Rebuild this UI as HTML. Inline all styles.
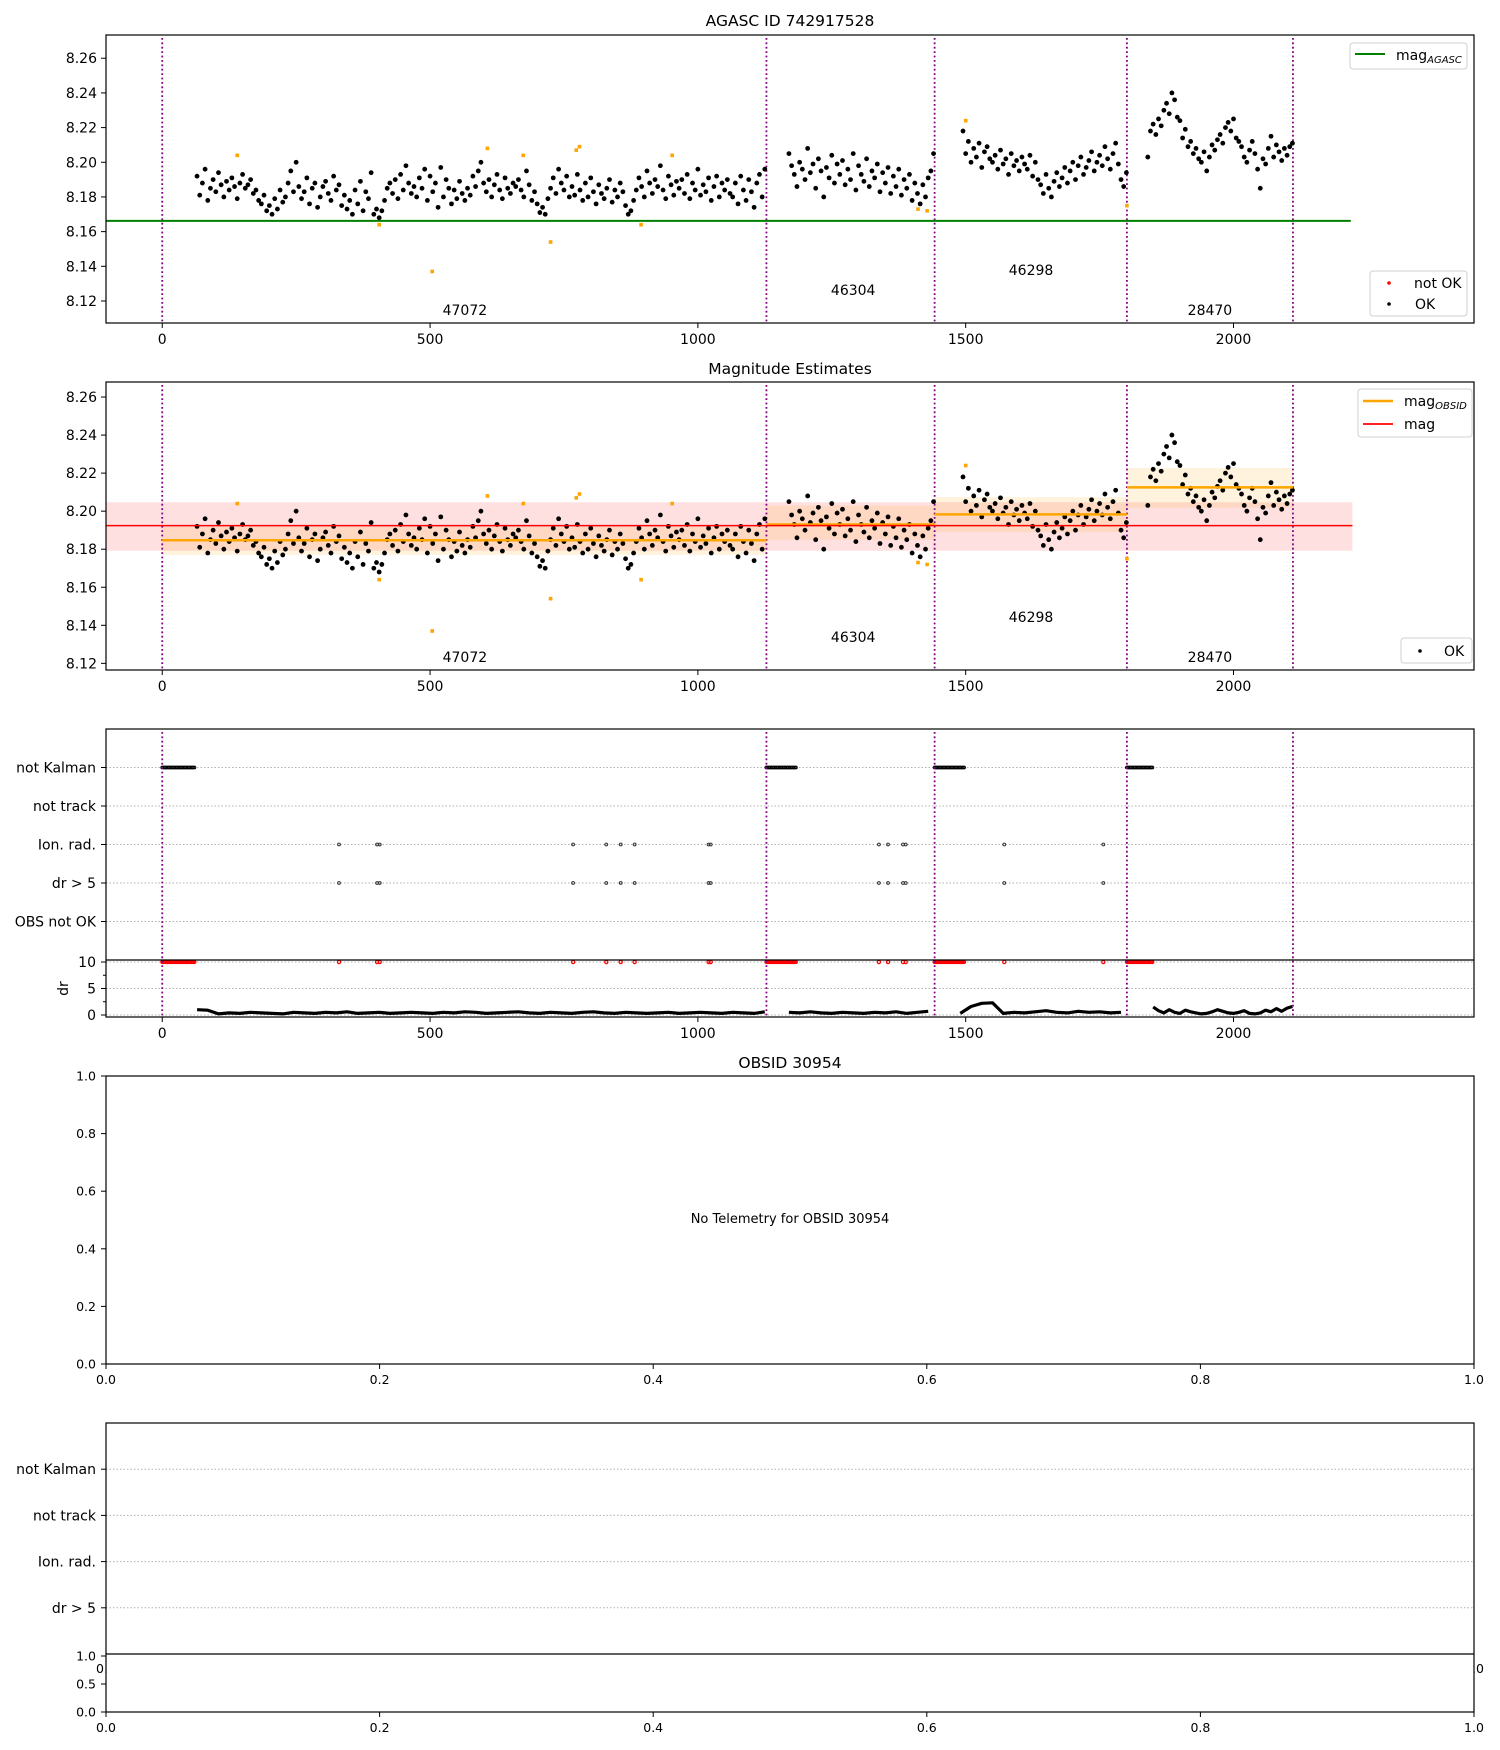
<!DOCTYPE html>
<html><head><meta charset="utf-8">
<style>
html,body{margin:0;padding:0;background:#fff;}
svg{display:block;font-family:"DejaVu Sans","Liberation Sans",sans-serif;}
</style></head>
<body>
<svg id="fig" width="1500" height="1750" viewBox="0 0 1500 1750" xmlns="http://www.w3.org/2000/svg">
<rect width="1500" height="1750" fill="#fff"/>
</svg>
<script>
// ---------- data ----------
const obsidLabels = ["47072","46304","46298","28470"];
const obsidBoundaries = [0, 1128, 1442, 1801, 2111];
const segStarts = [65, 1170, 1495, 1840];
const segStep = 5;
const magSegA = [92,81,88,96,78,85,90,83,94,87,80,89,84,91,86,79,88,93,85,87,
90,82,84,78,76,81,72,75,70,79,73,84,77,80,88,95,83,100,86,79,
83,91,76,85,88,74,80,86,89,82,78,92,84,87,75,81,73,78,70,84,
76,89,72,83,79,94,70,73,68,72,78,85,88,82,90,79,93,84,98,88,
82,86,80,91,85,96,78,92,83,88,74,97,80,90,85,76,84,79,89,82,
78,85,81,92,86,95,100,88,83,90,80,87,93,84,79,91,85,82,88,86,
90,84,80,95,87,78,83,76,71,74,70,79,85,91,82,96,88,84,92,80,
86,81,93,84,78,88,80,91,83,76,87,82,79,85,90,77,84,80,88,83,
75,70,72,78,84,91,86,80,95,88,82,90,86,98,84,79,92,87,81,89,
85,90,82,93,79,88,84,96,81,87,83,91,78,86,92,80,88,84,90,82,
80,88,76,92,84,78,90,83,74,88,93,80,96];
const magSegB = [105,98,93,86,100,96,90,108,94,99,85,102,95,80,97,91,104,88,99,93,
101,87,96,90,105,84,98,93,89,102,86,95,91,99,83,94,88,97,82,92,
86,96,81,90,85,93,78,88,82,76,87,80,91,95,105];
const magSegC = [118,105,112,100,108,103,111,97,106,109,102,100,104,96,107,99,102,93,105,98,
101,95,103,99,96,104,92,100,90,87,82,93,85,80,89,94,86,91,97,88,
95,100,90,98,103,93,97,101,106,95,100,104,98,109,102,96,105,111,99,90,86,94];
const magSegD = [103,118,122,116,125,121,130,134,128,140,136,126,124,114,119,109,112,105,108,102,
100,106,95,103,110,107,113,116,111,120,123,118,125,114,112,109,103,100,107,112,
105,96,85,102,99,108,115,103,110,106,101,108,104,109,111];
const notOkTimes = [140,405,504,607,674,725,773,779,894,952,1411,1428,1500,1801];
const notOkMags = [8.204,8.164,8.137,8.208,8.204,8.154,8.207,8.209,8.164,8.204,8.173,8.172,8.224,8.175];
const magAgasc = 8.1662;
const magMean = 8.1924, magMeanLo = 8.1792, magMeanHi = 8.2047;
const magObsid = [8.1847, 8.1930, 8.1983, 8.2125];
const magObsidLo = [8.1770, 8.1850, 8.1890, 8.2018];
const magObsidHi = [8.1920, 8.2030, 8.2074, 8.2227];
const drStarts = [65, 1170, 1490, 1850];
const drSteps = [20, 20, 20, 10];
const drSegA = [1.0,0.9,0.2,0.4,0.3,0.5,0.4,0.3,0.2,0.5,0.4,0.3,0.5,0.4,0.6,0.3,0.4,0.5,0.3,0.4,0.5,0.4,0.3,0.5,0.4,0.6,0.5,0.3,0.4,0.5,0.6,0.4,0.3,0.5,0.4,0.3,0.5,0.6,0.4,0.3,0.5,0.4,0.3,0.4,0.5,0.3,0.4,0.5,0.4,0.3,0.5,0.4,0.3,0.6];
const drSegB = [0.5,0.4,0.6,0.4,0.3,0.5,0.4,0.3,0.5,0.4,0.6,0.3,0.5,0.7];
const drSegC = [0.3,1.6,2.2,2.3,0.3,0.5,0.4,0.6,0.8,0.5,0.4,0.7,0.5,0.6,0.4,0.5];
const drSegD = [1.5,0.8,0.4,1.0,0.5,0.3,0.9,0.6,0.4,0.2,0.3,0.6,1.0,0.7,0.4,0.3,0.5,0.8,0.3,0.2,0.4,0.9,0.6,1.2,0.7,1.3,1.6];
const kalmanStart = [0, 1128, 1442, 1801];
const kalmanEnd = [62, 1185, 1497, 1850];
const ionRadTimes = [330,401,406,767,829,856,882,1020,1024,1338,1355,1383,1388,1572,1757];
const flagLabels = ["not Kalman","not track","Ion. rad.","dr > 5","OBS not OK"];
const flagLabels2 = ["not Kalman","not track","Ion. rad.","dr > 5"];
const xTicks = [0,500,1000,1500,2000];
const magTicks = [8.12,8.14,8.16,8.18,8.20,8.22,8.24,8.26];
const unitTicks = [0,0.2,0.4,0.6,0.8,1.0];
const drTicks = [0,5,10];

// ---------- helpers ----------
const NS = "http://www.w3.org/2000/svg";
const svg = document.getElementById('fig');
function mk(tag, attrs, parent) {
  const e = document.createElementNS(NS, tag);
  for (const k in attrs) e.setAttribute(k, attrs[k]);
  (parent || svg).appendChild(e);
  return e;
}
const X0 = 106, X1 = 1474, XMIN = -105, XMAX = 2449;
function sx(t){ return X0 + (t - XMIN) / (XMAX - XMIN) * (X1 - X0); }
function makeY(top, bot, ymin, ymax){ return v => bot - (v - ymin) / (ymax - ymin) * (bot - top); }
function txt(x, y, s, size, anchor, parent){
  const t = mk('text', {x:x, y:y, 'font-size':size, 'text-anchor':anchor||'middle', fill:'#000'}, parent);
  t.textContent = s;
  return t;
}
function segTimes(i, n, start, step){ return start + i*step; }

function frame(top, bot, name){
  const r = mk('rect', {x:X0, y:top, width:X1-X0, height:bot-top, fill:'none', stroke:'#000', 'stroke-width':1.2});
  
  
}
function xAxisTime(bot, name){
  const g = mk('g', {});
  
  
  xTicks.forEach(v => {
    mk('line', {x1:sx(v), x2:sx(v), y1:bot, y2:bot+5, stroke:'#000', 'stroke-width':1}, g);
    const t = txt(sx(v), bot+21, String(v), 14, 'middle', g);
    
    
  });
}
function magYAxis(top, bot, y, name){
  const g = mk('g', {});
  
  
  magTicks.forEach(v => {
    const yy = y(v);
    mk('line', {x1:X0-5, x2:X0, y1:yy, y2:yy, stroke:'#000', 'stroke-width':1}, g);
    const t = txt(X0-9, yy+5, v.toFixed(2), 14, 'end', g);
    
    
  });
}
function vlines(top, bot){
  obsidBoundaries.forEach(b => {
    const l = mk('line', {x1:sx(b), x2:sx(b), y1:top+3, y2:bot, stroke:'#800080', 'stroke-width':1.8, 'stroke-dasharray':'1.8,2.6'});
    
    
  });
}
function scatterAll(y, g){
  const segs = [magSegA, magSegB, magSegC, magSegD];
  segs.forEach((arr, si) => {
    arr.forEach((v, i) => {
      const t = segTimes(i, arr.length, segStarts[si], segStep);
      const c = mk('circle', {cx:sx(t), cy:y(8.1 + v/1000), r:2.4, fill:'#000'}, g);
      
      
    });
  });
  notOkTimes.forEach((t, i) => {
    const c = mk('rect', {x:sx(t)-1.8, y:y(notOkMags[i])-1.8, width:3.6, height:3.6, fill:'#ffa500'}, g);
    
    
  });
}
function obsidText(bot){
  const offs = [13, 33, 53, 13];
  obsidLabels.forEach((s, i) => {
    const mid = [565, 1290, 1622, 1956][i];
    const t = txt(sx(mid), bot - offs[i] + 5, s, 14, 'middle');
    
    
  });
}
function title(y, s, name){
  const t = txt((X0+X1)/2, y, s, 15.5, 'middle');
  
  
}

// ---------- panel 1 ----------
(function(){
  const top = 35, bot = 323;
  const y = makeY(top, bot, 8.1073, 8.2734);
  title(26, 'AGASC ID 742917528', 'panel1-title');
  vlines(top, bot);
  const g = mk('g', {});
  
  
  scatterAll(y, g);
  const gl = mk('line', {x1:X0, x2:sx(2219), y1:y(magAgasc), y2:y(magAgasc), stroke:'#008000', 'stroke-width':2});
  
  
  obsidText(bot);
  frame(top, bot, 'panel1-axes');
  magYAxis(top, bot, y, 'panel1-y-axis');
  xAxisTime(bot, 'panel1-x-axis');
  const lg = mk('g', {});
  
  
  mk('rect', {x:1350, y:43, width:117, height:26, rx:3, fill:'#fff', stroke:'#d0d0d0'}, lg);
  mk('line', {x1:1355, x2:1385, y1:54, y2:54, stroke:'#008000', 'stroke-width':2}, lg);
  const t1 = mk('text', {x:1396, y:60, 'font-size':14}, lg);
  t1.innerHTML = 'mag<tspan font-size="10" font-style="italic" dy="3">AGASC</tspan>';
  const lg2 = mk('g', {});
  
  
  mk('rect', {x:1370, y:271, width:97, height:45, rx:3, fill:'#fff', stroke:'#d0d0d0'}, lg2);
  mk('circle', {cx:1389, cy:283, r:1.8, fill:'#ff0000'}, lg2);
  txt(1414, 288, 'not OK', 14, 'start', lg2);
  mk('circle', {cx:1389, cy:304, r:1.8, fill:'#000'}, lg2);
  txt(1415, 309, 'OK', 14, 'start', lg2);
})();

// ---------- panel 2 ----------
(function(){
  const top = 382, bot = 670;
  const y = makeY(top, bot, 8.1165, 8.2679);
  title(374, 'Magnitude Estimates', 'panel2-title');
  const rb = mk('rect', {x:X0, y:y(magMeanHi), width:sx(2222)-X0, height:y(magMeanLo)-y(magMeanHi), fill:'rgba(255,0,0,0.12)'});
  
  
  magObsid.forEach((m, i) => {
    const a = obsidBoundaries[i], b = obsidBoundaries[i+1];
    const r = mk('rect', {x:sx(a), y:y(magObsidHi[i]), width:sx(b)-sx(a), height:y(magObsidLo[i])-y(magObsidHi[i]), fill:'rgba(255,165,0,0.13)'});
    
    
  });
  vlines(top, bot);
  const g = mk('g', {});
  
  
  scatterAll(y, g);
  magObsid.forEach((m, i) => {
    const a = obsidBoundaries[i], b = obsidBoundaries[i+1];
    const l = mk('line', {x1:sx(a), x2:sx(b), y1:y(m), y2:y(m), stroke:'#ffa500', 'stroke-width':2.5});
    
    
  });
  const rl = mk('line', {x1:X0, x2:sx(2222), y1:y(magMean), y2:y(magMean), stroke:'#ff0000', 'stroke-width':1.6});
  
  
  obsidText(bot);
  frame(top, bot, 'panel2-axes');
  magYAxis(top, bot, y, 'panel2-y-axis');
  xAxisTime(bot, 'panel2-x-axis');
  const lg = mk('g', {});
  
  
  mk('rect', {x:1358, y:389, width:114, height:48, rx:3, fill:'#fff', stroke:'#d0d0d0'}, lg);
  mk('line', {x1:1363, x2:1393, y1:401, y2:401, stroke:'#ffa500', 'stroke-width':2.5}, lg);
  const t1 = mk('text', {x:1404, y:406, 'font-size':14}, lg);
  t1.innerHTML = 'mag<tspan font-size="10" font-style="italic" dy="3">OBSID</tspan>';
  mk('line', {x1:1363, x2:1393, y1:424, y2:424, stroke:'#ff0000', 'stroke-width':1.8}, lg);
  txt(1404, 429, 'mag', 14, 'start', lg);
  const lg2 = mk('g', {});
  
  
  mk('rect', {x:1401, y:638, width:71, height:25, rx:3, fill:'#fff', stroke:'#d0d0d0'}, lg2);
  mk('circle', {cx:1420, cy:651, r:1.8, fill:'#000'}, lg2);
  txt(1444, 656, 'OK', 14, 'start', lg2);
})();

// ---------- panel 3 (flags + dr) ----------
(function(){
  const top = 729, mid = 960, bot = 1017;
  const fy = k => top + (k + 1) * (mid - top) / 6;
  const dy = makeY(mid, bot, -0.38, 10.38);
  flagLabels.forEach((s, k) => {
    const l = mk('line', {x1:X0, x2:X1, y1:fy(k), y2:fy(k), stroke:'#b0b0b0', 'stroke-width':1, 'stroke-dasharray':'1.5,2'});
    
    
    mk('line', {x1:X0-5, x2:X0, y1:fy(k), y2:fy(k), stroke:'#000'});
    const t = txt(X0-10, fy(k)+5, s, 14, 'end');
    
    
  });
  drTicks.forEach(v => {
    const l = mk('line', {x1:X0, x2:X1, y1:dy(v), y2:dy(v), stroke:'#b0b0b0', 'stroke-width':1, 'stroke-dasharray':'1.5,2'});
    
    
    mk('line', {x1:X0-5, x2:X0, y1:dy(v), y2:dy(v), stroke:'#000'});
    const t = txt(X0-10, dy(v)+5, String(v), 14, 'end');
    
    
  });
  [2.5, 7.5].forEach(v => mk('line', {x1:X0-3, x2:X0, y1:dy(v), y2:dy(v), stroke:'#000'}));
  const dl = mk('text', {x:0, y:0, 'font-size':14, 'text-anchor':'middle', transform:'translate(68,'+((mid+bot)/2)+') rotate(-90)'});
  dl.textContent = 'dr';
  
  
  kalmanStart.forEach((a, i) => {
    for (let t = a; t <= kalmanEnd[i]; t += 2.5) {
      const c = mk('circle', {cx:sx(t), cy:fy(0), r:1.4, fill:'none', stroke:'#000', 'stroke-width':1});
      
      
      const r = mk('circle', {cx:sx(t), cy:dy(10), r:1.5, fill:'none', stroke:'#ff0000', 'stroke-width':1.2});
      
      
    }
  });
  ionRadTimes.forEach(t => {
    [2, 3].forEach(k => {
      const c = mk('circle', {cx:sx(t), cy:fy(k), r:1.4, fill:'none', stroke:'#333', 'stroke-width':1});
      
      
    });
    const r = mk('circle', {cx:sx(t), cy:dy(10), r:1.6, fill:'none', stroke:'#ff0000', 'stroke-width':1.2});
    
    
  });
  [drSegA, drSegB, drSegC, drSegD].forEach((arr, si) => {
    const pts = arr.map((v, i) => sx(drStarts[si] + i*drSteps[si]).toFixed(1) + ',' + dy(v).toFixed(1)).join(' ');
    const p = mk('polyline', {points:pts, fill:'none', stroke:'#000', 'stroke-width':3.2, 'stroke-linejoin':'round'});
    
    
  });
  vlines(top, bot);
  frame(top, bot, 'panel3-axes');
  const sep = mk('line', {x1:X0, x2:X1, y1:mid, y2:mid, stroke:'#000', 'stroke-width':1.2});
  
  
  xAxisTime(bot, 'panel3-x-axis');
})();

// ---------- panel 4 ----------
(function(){
  const top = 1076, bot = 1364;
  const ux = v => X0 + v * (X1 - X0);
  const uy = v => bot - v * (bot - top);
  title(1068, 'OBSID 30954', 'panel4-title');
  frame(top, bot, 'panel4-axes');
  unitTicks.forEach(v => {
    mk('line', {x1:ux(v), x2:ux(v), y1:bot, y2:bot+5, stroke:'#000'});
    const t = txt(ux(v), bot+20, v.toFixed(1), 12.5, 'middle');
    
    
    mk('line', {x1:X0-5, x2:X0, y1:uy(v), y2:uy(v), stroke:'#000'});
    const t2 = txt(X0-10, uy(v)+4.5, v.toFixed(1), 12.5, 'end');
    
    
  });
  const nt = txt((X0+X1)/2, (top+bot)/2+3, 'No Telemetry for OBSID 30954', 13, 'middle');
  
  
})();

// ---------- panel 5 ----------
(function(){
  const top = 1423, mid = 1654, bot = 1712;
  const fy = k => top + (k + 1) * (mid - top) / 5;
  const ux = v => X0 + v * (X1 - X0);
  const ly = v => bot - v * (bot - mid - 2);
  flagLabels2.forEach((s, k) => {
    const l = mk('line', {x1:X0, x2:X1, y1:fy(k), y2:fy(k), stroke:'#b0b0b0', 'stroke-width':1, 'stroke-dasharray':'1.5,2'});
    
    
    mk('line', {x1:X0-5, x2:X0, y1:fy(k), y2:fy(k), stroke:'#000'});
    const t = txt(X0-10, fy(k)+5, s, 14, 'end');
    
    
  });
  txt(X0, mid+19, '0.0', 12.5, 'middle');
  txt(X1, mid+19, '1.0', 12.5, 'middle');
  const bg = mk('rect', {x:X0, y:mid, width:X1-X0, height:bot-mid, fill:'#fff'});
  
  
  frame(top, bot, 'panel5-axes');
  mk('line', {x1:X0, x2:X1, y1:mid, y2:mid, stroke:'#000', 'stroke-width':1.2});
  [0, 0.5, 1.0].forEach(v => {
    mk('line', {x1:X0-5, x2:X0, y1:ly(v), y2:ly(v), stroke:'#000'});
    const t = txt(X0-10, ly(v)+4.5, v.toFixed(1), 12.5, 'end');
    
    
  });
  unitTicks.forEach(v => {
    mk('line', {x1:ux(v), x2:ux(v), y1:bot, y2:bot+5, stroke:'#000'});
    const t = txt(ux(v), bot+20, v.toFixed(1), 12.5, 'middle');
    
    
  });
})();
</script>
</body></html>
